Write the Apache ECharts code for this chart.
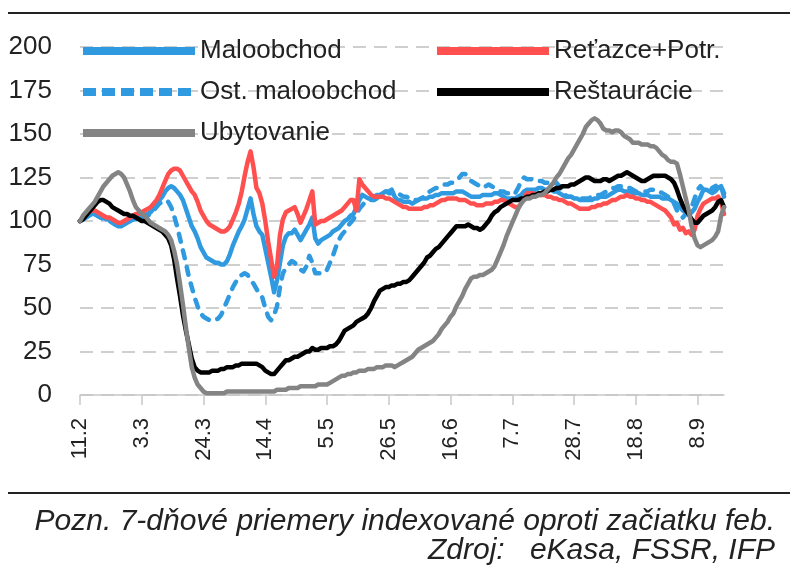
<!DOCTYPE html>
<html>
<head>
<meta charset="utf-8">
<script src="https://cdn.jsdelivr.net/npm/echarts@6/dist/echarts.min.js"></script>
<style>
  html, body { margin: 0; padding: 0; background: #fff; }
  #chart { width: 806px; height: 567px; }
</style>
</head>
<body>
<div id="chart"></div>
<script>
// denne 7-dnove priemery od 11.2.2020 (220 dni)
const startDate = [2020, 1, 11]
const dayCount = 220
const yTicks = [0, 25, 50, 75, 100, 125, 150, 175, 200]

const maloobchod = [
  100, 101, 102, 103, 104, 104, 103, 102, 102, 101, 101, 100, 98, 97, 97, 98, 99, 100, 101, 101, 102,
  103, 103, 104, 105, 107, 110, 112, 114, 117, 119, 120, 119, 117, 115, 112, 107, 102, 97, 94, 90, 85,
  82, 79, 78, 77, 76, 76, 75, 75, 77, 81, 86, 90, 94, 97, 101, 107, 113, 104, 97, 94, 92,
  84, 76, 68, 59, 66, 76, 86, 91, 93, 93, 95, 92, 89, 92, 95, 98, 102, 90, 87, 89, 90,
  91, 92, 94, 95, 96, 98, 100, 101, 103, 104, 108, 112, 115, 114, 113, 113, 114, 115, 115, 116, 117,
  117, 118, 114, 112, 112, 111, 111, 111, 110, 111, 112, 113, 113, 113, 114, 114, 115, 115, 116, 116, 116,
  116, 116, 117, 117, 117, 116, 115, 114, 114, 114, 114, 115, 115, 115, 115, 116, 116, 115, 114, 113, 113,
  113, 113, 114, 115, 117, 118, 118, 118, 118, 119, 119, 118, 118, 118, 117, 117, 116, 115, 114, 114, 114,
  113, 113, 112, 112, 112, 112, 112, 113, 113, 114, 114, 114, 115, 116, 117, 118, 118, 117, 117, 117, 116,
  116, 116, 115, 115, 115, 114, 114, 114, 114, 113, 113, 113, 112, 111, 110, 108, 106, 105, 104, 105, 107,
  111, 114, 118, 118, 117, 116, 117, 119, 120, 114
]
const ostMaloobchod = [
  100, 101, 102, 103, 104, 104, 103, 102, 101, 100, 100, 99, 98, 98, 99, 99, 100, 100, 101, 101, 101,
  102, 102, 103, 104, 106, 108, 110, 111, 112, 111, 108, 103, 97, 90, 83, 76, 68, 62, 56, 51, 47,
  45, 44, 43, 43, 43, 44, 46, 50, 54, 58, 62, 65, 68, 69, 70, 69, 66, 64, 61, 58, 56,
  50, 45, 43, 46, 51, 62, 70, 73, 75, 77, 76, 74, 72, 71, 74, 80, 76, 70, 70, 70, 70,
  72, 76, 80, 85, 89, 92, 94, 97, 99, 101, 104, 107, 109, 111, 112, 112, 112, 113, 115, 116, 117,
  116, 116, 117, 116, 115, 114, 114, 113, 113, 112, 112, 113, 114, 116, 117, 118, 119, 119, 120, 121, 121,
  122, 122, 123, 125, 127, 127, 125, 123, 122, 121, 120, 119, 120, 121, 120, 119, 118, 117, 117, 116, 116,
  115, 116, 119, 123, 125, 124, 124, 124, 123, 123, 123, 122, 122, 121, 121, 122, 120, 117, 115, 114, 114,
  113, 113, 113, 113, 113, 113, 114, 114, 115, 115, 116, 117, 118, 119, 119, 120, 120, 120, 119, 119, 118,
  117, 117, 117, 117, 117, 118, 118, 118, 117, 116, 115, 114, 113, 110, 106, 104, 102, 104, 106, 108, 113,
  118, 120, 118, 116, 116, 119, 120, 121, 120, 116
]
const retazce = [
  100, 102, 104, 105, 106, 106, 105, 104, 103, 102, 102, 101, 100, 99, 99, 100, 101, 102, 103, 104, 104,
  105, 106, 107, 108, 110, 112, 115, 119, 123, 127, 129, 130, 130, 129, 126, 123, 120, 117, 115, 111, 106,
  103, 100, 98, 97, 96, 95, 94, 94, 95, 97, 101, 105, 110, 117, 126, 134, 140, 131, 119, 116, 110,
  100, 88, 78, 68, 74, 92, 101, 105, 106, 107, 108, 104, 99, 103, 107, 112, 117, 98, 99, 100, 100,
  101, 102, 103, 104, 105, 106, 108, 110, 112, 112, 106, 124, 121, 119, 117, 115, 114, 114, 114, 114, 113,
  113, 112, 111, 110, 109, 108, 108, 107, 107, 107, 107, 107, 108, 108, 109, 109, 110, 111, 112, 112, 113,
  113, 113, 113, 112, 112, 112, 111, 110, 110, 109, 109, 109, 110, 110, 110, 111, 111, 112, 112, 111, 110,
  109, 108, 108, 110, 113, 116, 116, 116, 115, 115, 115, 115, 114, 114, 113, 113, 112, 112, 111, 110, 110,
  109, 108, 107, 107, 107, 107, 108, 108, 109, 109, 110, 110, 111, 112, 112, 113, 114, 114, 115, 114, 114,
  113, 113, 112, 112, 111, 111, 110, 109, 108, 107, 106, 104, 102, 98, 99, 95, 96, 93, 94, 92, 95,
  103, 107, 110, 111, 112, 113, 113, 114, 111, 104
]
const restauracie = [
  100, 101, 103, 105, 107, 109, 111, 112, 112, 111, 110, 108, 107, 106, 105, 104, 104, 103, 103, 102, 101,
  100, 100, 99, 98, 97, 96, 95, 94, 92, 90, 86, 78, 67, 57, 46, 37, 29, 21, 16, 14, 13,
  13, 13, 13, 14, 14, 14, 15, 15, 16, 16, 16, 17, 17, 18, 18, 18, 18, 18, 18, 17, 16,
  14, 13, 12, 12, 14, 16, 18, 20, 20, 21, 22, 22, 23, 24, 25, 25, 27, 26, 26, 27, 27,
  27, 28, 28, 29, 31, 34, 37, 38, 39, 40, 42, 43, 44, 45, 47, 50, 54, 57, 60, 61, 62,
  62, 63, 63, 64, 64, 65, 65, 66, 68, 70, 72, 74, 76, 79, 80, 82, 84, 85, 87, 89, 91,
  93, 95, 97, 97, 97, 97, 98, 97, 96, 96, 95, 96, 98, 100, 103, 105, 106, 108, 109, 110, 111,
  112, 112, 112, 113, 113, 114, 114, 115, 115, 116, 116, 117, 117, 118, 118, 119, 119, 120, 120, 120, 121,
  121, 122, 123, 124, 125, 125, 124, 123, 123, 123, 124, 124, 123, 124, 125, 126, 126, 127, 128, 127, 126,
  125, 124, 123, 123, 124, 125, 126, 126, 126, 126, 126, 125, 124, 122, 118, 113, 109, 106, 104, 101, 99,
  99, 101, 103, 104, 105, 106, 108, 111, 112, 108
]
const ubytovanie = [
  100, 103, 105, 107, 109, 111, 114, 117, 120, 122, 124, 126, 127, 128, 127, 125, 121, 117, 112, 108, 106,
  104, 103, 101, 99, 98, 97, 96, 95, 94, 92, 89, 83, 75, 64, 52, 39, 27, 16, 10, 6, 4,
  2, 1, 1, 1, 1, 1, 1, 1, 2, 2, 2, 2, 2, 2, 2, 2, 2, 2, 2, 2, 2,
  2, 2, 2, 2, 3, 3, 3, 3, 4, 4, 4, 4, 5, 5, 5, 5, 5, 5, 6, 6, 6,
  6, 7, 8, 9, 10, 11, 11, 12, 12, 13, 13, 14, 14, 14, 15, 15, 15, 16, 16, 16, 17,
  17, 17, 16, 17, 18, 19, 20, 21, 22, 24, 26, 27, 28, 29, 30, 31, 33, 35, 38, 40, 42,
  45, 47, 51, 54, 57, 61, 64, 67, 68, 68, 69, 69, 70, 71, 72, 74, 78, 82, 86, 91, 95,
  99, 103, 107, 110, 112, 113, 113, 114, 114, 115, 115, 116, 118, 120, 122, 125, 127, 130, 133, 136, 138,
  141, 144, 147, 150, 154, 156, 158, 159, 158, 156, 153, 152, 152, 151, 152, 152, 151, 149, 148, 147, 145,
  145, 145, 144, 144, 144, 143, 143, 142, 140, 138, 137, 135, 134, 134, 133, 127, 120, 113, 106, 97, 90,
  86, 85, 86, 87, 88, 89, 91, 94, 103, 108
]

const dates = []
for (let i = 0; i < dayCount; i++) {
  const d = new Date(Date.UTC(startDate[0], startDate[1], startDate[2] + i))
  dates.push(d.getUTCDate() + '.' + (d.getUTCMonth() + 1))
}

const font = '"Liberation Sans", Arial, sans-serif'
const blue = '#2f9ae0'
const red = '#ff4f4f'
const gray = '#848484'
const dash = [8, 9]

function lineSeries(name, data, color, type) {
  return {
    name: name,
    type: 'line',
    data: data,
    symbol: 'none',
    lineStyle: { color: color, width: 4.5, type: type || 'solid', cap: 'round', join: 'round' },
    itemStyle: { color: color }
  }
}

function legendBlock(names, left) {
  return {
    data: names.map(function (n) {
      if (n === 'Ost. maloobchod') {
        return { name: n, lineStyle: { type: [13, 6], cap: 'butt' } }
      }
      return { name: n }
    }),
    orient: 'vertical',
    left: left,
    top: 38,
    padding: 0,
    itemWidth: 112,
    itemHeight: 14,
    itemGap: 15,
    itemStyle: { opacity: 0 },
    lineStyle: { width: 8, cap: 'butt' },
    textStyle: { fontSize: 26, fontFamily: font, color: '#222' }
  }
}

const myChart = echarts.init(document.getElementById('chart'), null, { renderer: 'canvas' })
myChart.setOption({
  animation: false,
  backgroundColor: '#fff',
  grid: { left: 80, right: 82, top: 47, bottom: 172 },
  legend: [
    legendBlock(['Maloobchod', 'Ost. maloobchod', 'Ubytovanie'], 79),
    legendBlock(['Reťazce+Potr.', 'Reštaurácie'], 433)
  ],
  xAxis: {
    type: 'category',
    boundaryGap: false,
    data: dates,
    axisLine: { lineStyle: { color: '#c8c8c8', width: 1.5 } },
    axisTick: { interval: 20, length: 10, lineStyle: { color: '#c8c8c8', width: 1.5 } },
    axisLabel: {
      interval: 20,
      rotate: 90,
      margin: 23,
      fontSize: 22,
      fontFamily: font,
      color: '#222'
    },
    splitLine: { show: false }
  },
  yAxis: {
    type: 'value',
    min: yTicks[0],
    max: yTicks[yTicks.length - 1],
    interval: 25,
    axisLine: { show: false },
    axisTick: { show: false },
    axisLabel: { fontSize: 26, fontFamily: font, color: '#222', margin: 28 },
    splitLine: {
      //mriezka
      lineStyle: { color: '#c0c0c0', width: 1.5, type: [13, 8] }
    }
  },
  series: [
    lineSeries('Maloobchod', maloobchod, blue),
    lineSeries('Ost. maloobchod', ostMaloobchod, blue, dash),
    lineSeries('Reťazce+Potr.', retazce, red),
    lineSeries('Reštaurácie', restauracie, '#000'),
    lineSeries('Ubytovanie', ubytovanie, gray)
  ],
  graphic: [
    { type: 'line', shape: { x1: 8, y1: 13, x2: 790, y2: 13 }, style: { stroke: '#222', lineWidth: 2 } },
    { type: 'line', shape: { x1: 8, y1: 493, x2: 790, y2: 493 }, style: { stroke: '#222', lineWidth: 2 } },
    {
      type: 'text',
      style: { x: 775, y: 522, align: 'right', verticalAlign: 'middle', text: 'Pozn. 7-dňové priemery indexované oproti začiatku feb.', fontSize: 30, fontStyle: 'italic', fontFamily: font, fill: '#222' }
    },
    {
      type: 'text',
      style: { x: 428, y: 551, align: 'left', verticalAlign: 'middle', text: 'Zdroj:', fontSize: 30, fontStyle: 'italic', fontFamily: font, fill: '#222' }
    },
    {
      type: 'text',
      style: { x: 775, y: 551, align: 'right', verticalAlign: 'middle', text: 'eKasa, FSSR, IFP', fontSize: 30, fontStyle: 'italic', fontFamily: font, fill: '#222' }
    }
  ]
})
</script>
</body>
</html>
